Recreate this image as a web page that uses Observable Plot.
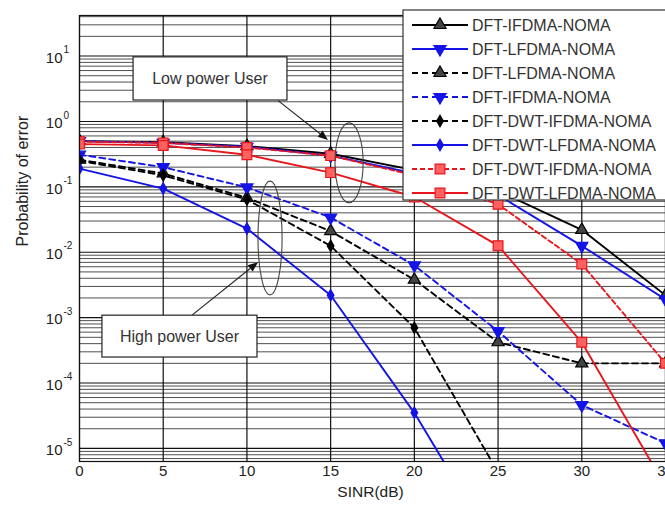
<!DOCTYPE html>
<html><head><meta charset="utf-8">
<script src="https://cdn.jsdelivr.net/npm/d3@7"></script>
<script src="https://cdn.jsdelivr.net/npm/@observablehq/plot@0.6"></script>
<style>
body{margin:0;background:#fff;overflow:hidden}
#chart{position:relative;width:665px;height:508px;overflow:hidden}
</style></head><body><div id="chart"></div>
<script>
// ---- data ----
const snr = [0, 5, 10, 15, 20, 25, 30, 35];
const xTicks = [0, 5, 10, 15, 20, 25, 30, 35];
const yTickExps = [1, 0, -1, -2, -3, -4, -5];
const seriesNames = [
  "DFT-IFDMA-NOMA", "DFT-LFDMA-NOMA", "DFT-LFDMA-NOMA", "DFT-IFDMA-NOMA",
  "DFT-DWT-IFDMA-NOMA", "DFT-DWT-LFDMA-NOMA", "DFT-DWT-IFDMA-NOMA", "DFT-DWT-LFDMA-NOMA"
];
const v1 = [0.50, 0.48, 0.42, 0.32, 0.18, 0.087, 0.022, 0.0022];
const v2 = [0.50, 0.47, 0.41, 0.30, 0.16, 0.075, 0.0125, 0.0019];
const v3 = [0.26, 0.16, 0.068, 0.021, 0.0038, 0.00042, 0.0002, 0.0002];
const v4 = [0.31, 0.20, 0.098, 0.034, 0.0063, 0.00062, 0.000046, 0.000012];
const v5 = [0.25, 0.15, 0.064, 0.0125, 0.0007, 0.0000043];
const v6 = [0.19, 0.094, 0.023, 0.0022, 0.000035, 0.00000026];
const v7 = [0.49, 0.47, 0.40, 0.30, 0.15, 0.054, 0.0066, 0.0002];
const v8 = [0.45, 0.43, 0.31, 0.165, 0.07, 0.0126, 0.00042, 0.0000026];
const allValues = [v1, v2, v3, v4, v5, v6, v7, v8];
const annotationLabels = ["Low power User", "High power User"];
const xLabel = "SINR(dB)";
const yLabel = "Probability of error";

// ---- styles ----
const sqrt3 = Math.sqrt(3);
const triangleDown = {
  draw(ctx, size) {
    const y = -Math.sqrt(size / (sqrt3 * 3));
    ctx.moveTo(0, -y * 2);
    ctx.lineTo(-sqrt3 * y, y);
    ctx.lineTo(sqrt3 * y, y);
    ctx.closePath();
  }
};
const BLUE = "#1414e6", RED = "#e8161c";
const styles = [
  {stroke: "#000", dash: null, symbol: "triangle", sym: d3.symbolTriangle, fill: "#444", r: 4.5},
  {stroke: BLUE, dash: null, symbol: triangleDown, sym: triangleDown, fill: BLUE, r: 4.5},
  {stroke: "#000", dash: "6,4", symbol: "triangle", sym: d3.symbolTriangle, fill: "#444", r: 4.5},
  {stroke: BLUE, dash: "6,4", symbol: triangleDown, sym: triangleDown, fill: BLUE, r: 4.5},
  {stroke: "#000", dash: "6,4", symbol: "diamond", sym: d3.symbolDiamond, fill: "#000", r: 3.5},
  {stroke: BLUE, dash: null, symbol: "diamond", sym: d3.symbolDiamond, fill: BLUE, r: 3.5},
  {stroke: RED, dash: "5,3", symbol: "square", sym: d3.symbolSquare, fill: "#ff6060", r: 5.5},
  {stroke: RED, dash: null, symbol: "square", sym: d3.symbolSquare, fill: "#ff6060", r: 5.5}
];

const rows = allValues.map((vals, i) => vals.map((v, j) => ({s: i, x: snr[j], y: v})));

const yMin = 10 ** -5.2, yMax = 10 ** 1.62;
const minor = [];
for (let e = -6; e <= 1; e++) for (let k = 2; k <= 9; k++) {
  const v = k * 10 ** e; if (v > yMin && v < yMax) minor.push(v);
}
const major = yTickExps.map(e => 10 ** e);

const FONT = "'Liberation Sans', Arial, sans-serif";
const marks = [
  Plot.ruleY(minor, {stroke: "#505050", strokeWidth: 1}),
  Plot.ruleY(major, {stroke: "#111", strokeWidth: 1.1}),
  Plot.ruleX(xTicks, {stroke: "#111", strokeWidth: 1.2}),
];
rows.forEach((data, i) => {
  const st = styles[i];
  marks.push(Plot.line(data, {x: "x", y: "y", stroke: st.stroke, strokeWidth: 1.9,
    strokeDasharray: st.dash || undefined, clip: true}));
  marks.push(Plot.dot(data, {x: "x", y: "y", symbol: st.symbol, r: st.r, fill: st.fill,
    stroke: st.stroke, strokeWidth: 1.2, clip: true}));
});
marks.push(Plot.frame({stroke: "#111", strokeWidth: 1.2}));
marks.push(Plot.text(yTickExps, {y: d => 10 ** d, frameAnchor: "left", text: () => "10",
  textAnchor: "end", dx: -17, dy: 2, fontSize: 15, fill: "#222"}));
marks.push(Plot.text(yTickExps, {y: d => 10 ** d, frameAnchor: "left", text: d => String(d),
  textAnchor: "start", dx: -16, dy: -6, fontSize: 10, fill: "#222"}));
marks.push(Plot.text(xTicks, {x: d => d, frameAnchor: "bottom", text: d => String(d),
  dy: 14, fontSize: 15, fill: "#222"}));
marks.push(Plot.text([xLabel], {frameAnchor: "bottom", text: d => d, dy: 35, dx: -2, fontSize: 15.5, fill: "#222"}));
marks.push(Plot.text([yLabel], {frameAnchor: "left", text: d => d, rotate: -90, dx: -57, dy: 8, fontSize: 16, fill: "#222"}));

const plot = Plot.plot({
  width: 665, height: 508,
  marginLeft: 79, marginRight: 0, marginTop: 15, marginBottom: 47,
  x: {domain: [0, 35], axis: null},
  y: {type: "log", domain: [yMin, yMax], axis: null},
  style: {fontFamily: FONT, background: "white", overflow: "visible"},
  marks
});
document.getElementById("chart").appendChild(plot);

// ---- annotations (positioned in data units through the plot's scales) ----
const xs = plot.scale("x"), ys = plot.scale("y");
const X = v => xs.apply(v), Y = e => ys.apply(10 ** e);
const svg = d3.select(plot);
const ann = svg.append("g").attr("font-family", FONT);

function box(x1, x2, e1, e2, label) {
  ann.append("rect").attr("x", X(x1)).attr("y", Y(e2)).attr("width", X(x2) - X(x1)).attr("height", Y(e1) - Y(e2))
    .attr("fill", "white").attr("stroke", "#222").attr("stroke-width", 1.2);
  ann.append("text").attr("x", (X(x1) + X(x2)) / 2).attr("y", (Y(e1) + Y(e2)) / 2).attr("dy", "0.35em")
    .attr("text-anchor", "middle").attr("font-size", 16).attr("fill", "#333").text(label);
}
function arrow(xa, ea, xb, eb) {
  const x0 = X(xa), y0 = Y(ea), x1 = X(xb), y1 = Y(eb);
  const ang = Math.atan2(y1 - y0, x1 - x0), L = 10, Wd = 4;
  const bx = x1 - L * Math.cos(ang), by = y1 - L * Math.sin(ang);
  ann.append("line").attr("x1", x0).attr("y1", y0).attr("x2", bx).attr("y2", by).attr("stroke", "#222").attr("stroke-width", 1.1);
  ann.append("path").attr("d", `M${x1},${y1}L${bx - Wd * Math.sin(ang)},${by + Wd * Math.cos(ang)}L${bx + Wd * Math.sin(ang)},${by - Wd * Math.cos(ang)}Z`).attr("fill", "#111");
}
function ellipse(cx, ce, rx, re) {
  ann.append("ellipse").attr("cx", X(cx)).attr("cy", Y(ce)).attr("rx", X(cx + rx) - X(cx)).attr("ry", Y(ce - re) - Y(ce))
    .attr("fill", "none").attr("stroke", "#444").attr("stroke-width", 1.1);
}
ellipse(16.13, -0.64, 0.84, 0.61);
ellipse(11.41, -1.79, 0.72, 0.87);
arrow(11.89, 0.31, 14.87, -0.29);
arrow(6.75, -2.97, 10.69, -2.16);
box(3.23, 12.42, 0.32, 0.98, annotationLabels[0]);
box(1.37, 10.63, -3.61, -2.97, annotationLabels[1]);

// ---- legend ----
const lg = svg.append("g").attr("font-family", FONT).attr("text-anchor", "start");
lg.append("rect").attr("x", 403).attr("y", 10).attr("width", 275).attr("height", 190)
  .attr("fill", "white").attr("stroke", "#333").attr("stroke-width", 1.2);
seriesNames.forEach((name, i) => {
  const st = styles[i], y = 25 + i * 24;
  lg.append("line").attr("x1", 412).attr("x2", 468).attr("y1", y).attr("y2", y)
    .attr("stroke", st.stroke).attr("stroke-width", 1.8).attr("stroke-dasharray", st.dash);
  lg.append("path").attr("transform", `translate(440,${y})`)
    .attr("d", d3.symbol(st.sym, Math.PI * st.r * st.r)())
    .attr("fill", st.fill).attr("stroke", st.stroke).attr("stroke-width", 1.2);
  lg.append("text").attr("x", 472).attr("y", y).attr("dy", "0.35em").attr("font-size", 16)
    .attr("text-anchor", "start").attr("fill", "#333").text(name);
});
</script></body></html>
